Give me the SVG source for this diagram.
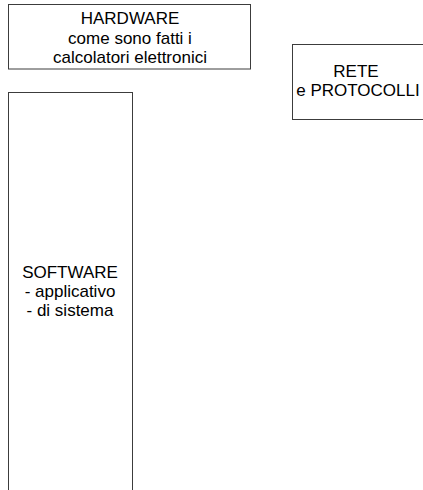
<svg xmlns="http://www.w3.org/2000/svg" width="423" height="490" viewBox="0 0 423 490">
<style>
.box{fill:#fff;stroke:#3c3c3c;stroke-width:1}
.t{font-family:"Liberation Sans",Arial,sans-serif;font-size:17px;fill:#000;text-anchor:middle}
</style>
<rect width="423" height="490" fill="#fff"/>
<g id="hardware">
<rect class="box" x="8.5" y="4.5" width="242" height="64.5"/>
<text class="t" x="130" y="24">HARDWARE</text>
<text class="t" x="130" y="43.5">come sono fatti i</text>
<text class="t" x="130" y="63">calcolatori elettronici</text>
</g>
<g id="rete">
<rect class="box" x="292.5" y="44.5" width="140" height="75"/>
<text class="t" x="356" y="77">RETE</text>
<text class="t" x="358" y="96">e PROTOCOLLI</text>
</g>
<g id="software">
<rect class="box" x="8.5" y="92.5" width="124" height="410"/>
<text class="t" x="70" y="278">SOFTWARE</text>
<text class="t" x="70" y="297">- applicativo</text>
<text class="t" x="70" y="316">- di sistema</text>
</g>
<g id="connectors"></g>
</svg>
